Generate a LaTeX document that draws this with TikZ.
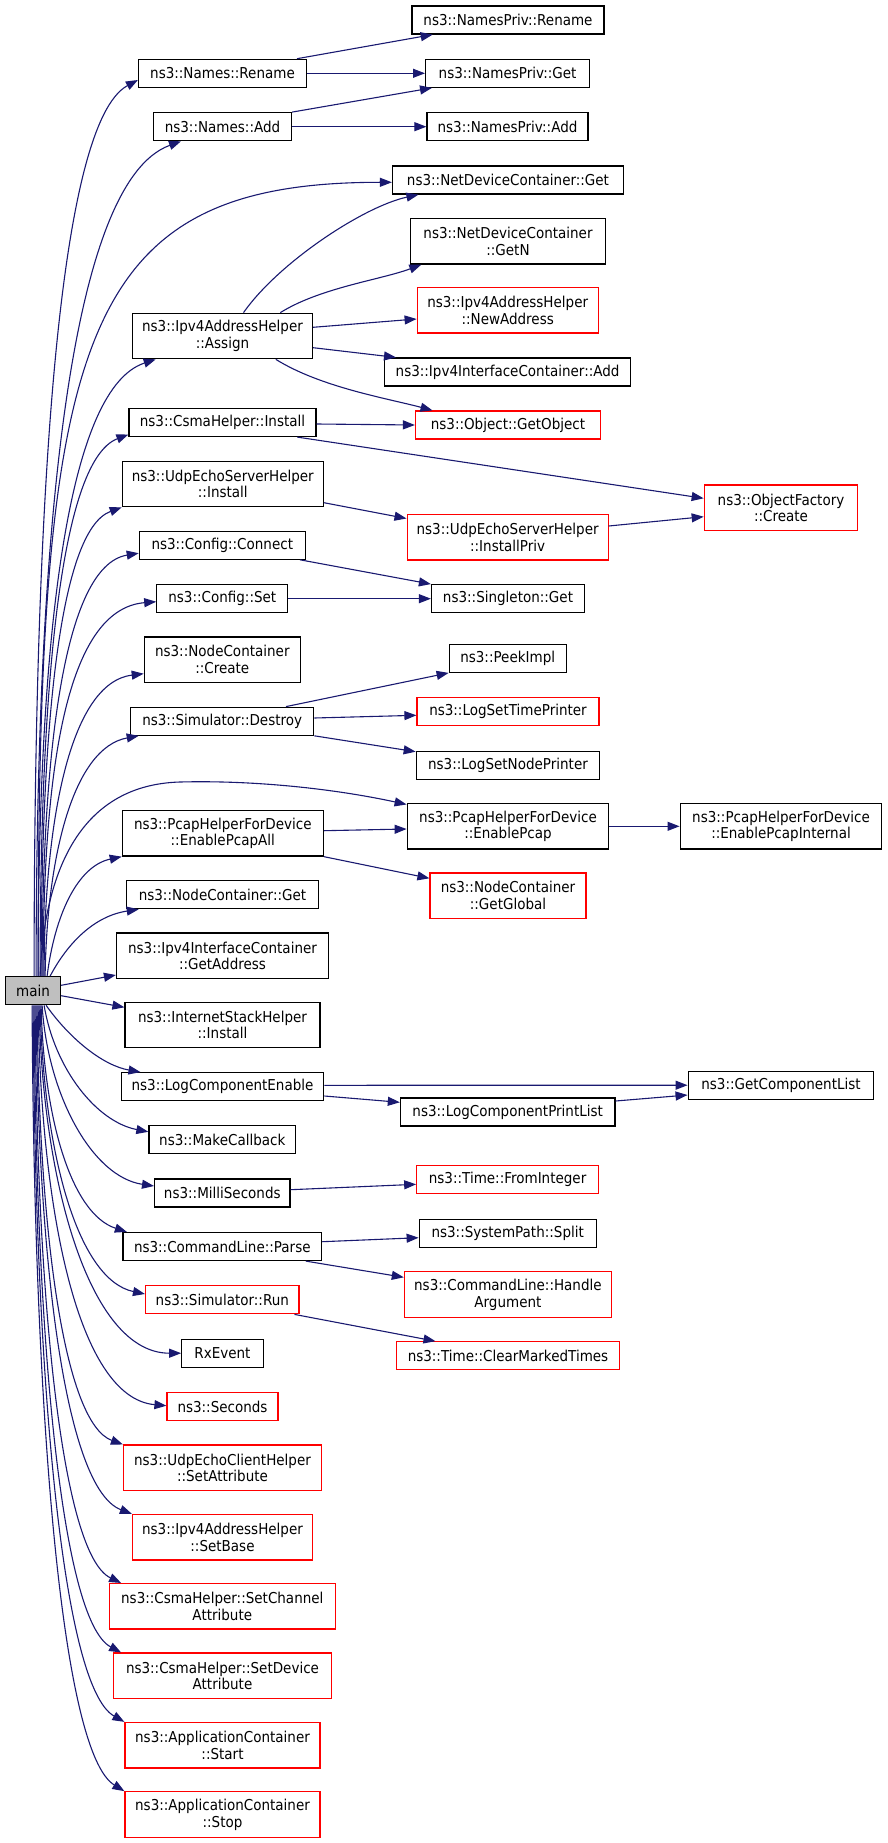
\documentclass[tikz,border=0pt]{standalone}
\usepackage{fontspec}
\setmainfont{DejaVu Sans}[FakeStretch=0.9]
\usetikzlibrary{arrows.meta,calc}
\definecolor{edgeblue}{HTML}{191970}
\definecolor{maingray}{HTML}{BFBFBF}
\tikzset{
  box/.style={draw=black, fill=white, line width=1.2pt, inner sep=0pt, align=center, minimum height=28pt},
  tall/.style={minimum height=45.5pt},
  redbox/.style={box, draw=red},
  conn/.style={draw=edgeblue, line width=1.1pt, -{Triangle[length=12pt,width=9pt]}},
}
\newcommand\cedge[6]{%
  \draw[conn] let \p1=(#1), \p2=(#2) in (\p1) .. controls ({\x1+#3*(\x2-\x1)},{\y1+#4*(\y2-\y1)}) and ({\x1+#5*(\x2-\x1)},{\y1+#6*(\y2-\y1)}) .. (\p2);}
\begin{document}
\begin{tikzpicture}[x=1pt,y=-1pt,font=\fontsize{15}{16.7}\selectfont]
\path[use as bounding box] (0,0) rectangle (888,1843);
% nodes
\node[box, minimum width=192pt] (nprename) at (508,20) {ns3::NamesPriv::Rename};
\node[box, minimum width=168pt] (nrename) at (222.5,73.3) {ns3::Names::Rename};
\node[box, minimum width=164pt] (npget) at (507.6,73.3) {ns3::NamesPriv::Get};
\node[box, minimum width=138pt] (nadd) at (222.5,126.7) {ns3::Names::Add};
\node[box, minimum width=161pt] (npadd) at (507.5,126.7) {ns3::NamesPriv::Add};
\node[box, minimum width=231pt] (ndcget) at (508,180) {ns3::NetDeviceContainer::Get};
\node[box, tall, minimum width=195pt] (ndcgetn) at (508,241.3) {ns3::NetDeviceContainer\\::GetN};
\node[redbox, tall, minimum width=181pt] (newaddr) at (507.7,310.2) {ns3::Ipv4AddressHelper\\::NewAddress};
\node[box, tall, minimum width=180pt] (assign) at (222.5,336) {ns3::Ipv4AddressHelper\\::Assign};
\node[box, minimum width=246pt] (icadd) at (507.6,372) {ns3::Ipv4InterfaceContainer::Add};
\node[redbox, minimum width=185pt] (getobj) at (508,425) {ns3::Object::GetObject};
\node[box, minimum width=187pt] (csmainst) at (222.5,422.5) {ns3::CsmaHelper::Install};
\node[box, tall, minimum width=201pt] (uesinst) at (222.8,484) {ns3::UdpEchoServerHelper\\::Install};
\node[redbox, tall, minimum width=153.5pt] (ofcreate) at (781,507.8) {ns3::ObjectFactory\\::Create};
\node[redbox, tall, minimum width=201pt] (uesinstpriv) at (507.6,537.3) {ns3::UdpEchoServerHelper\\::InstallPriv};
\node[box, minimum width=166pt] (cfgconn) at (222.3,545.2) {ns3::Config::Connect};
\node[box, minimum width=131pt] (cfgset) at (222.3,598.7) {ns3::Config::Set};
\node[box, minimum width=153pt] (sget) at (508,598.7) {ns3::Singleton::Get};
\node[box, tall, minimum width=156pt] (nccreate) at (222.3,659.7) {ns3::NodeContainer\\::Create};
\node[box, minimum width=117pt] (peek) at (507.7,658.3) {ns3::PeekImpl};
\node[redbox, minimum width=182pt] (lstp) at (508,711.8) {ns3::LogSetTimePrinter};
\node[box, minimum width=183pt] (destroy) at (222.2,721.2) {ns3::Simulator::Destroy};
\node[box, minimum width=183.5pt] (lsnp) at (508,765.2) {ns3::LogSetNodePrinter};
\node[box, tall, minimum width=201.6pt] (epcap) at (508,826.3) {ns3::PcapHelperForDevice\\::EnablePcap};
\node[box, tall, minimum width=201.7pt] (epcapint) at (781,826.3) {ns3::PcapHelperForDevice\\::EnablePcapInternal};
\node[box, tall, minimum width=201pt] (epcapall) at (222.8,833.3) {ns3::PcapHelperForDevice\\::EnablePcapAll};
\node[redbox, tall, minimum width=156pt] (ncglobal) at (508,895.7) {ns3::NodeContainer\\::GetGlobal};
\node[box, minimum width=192.5pt] (ncget) at (222.5,894.7) {ns3::NodeContainer::Get};
\node[box, tall, minimum width=212pt] (getaddr) at (222.5,955.8) {ns3::Ipv4InterfaceContainer\\::GetAddress};
\node[box, fill=maingray, minimum width=55pt] (main) at (33.1,990.7) {main};
\node[box, tall, minimum width=195pt] (isinst) at (222.5,1025) {ns3::InternetStackHelper\\::Install};
\node[box, minimum width=202.7pt] (lce) at (222.5,1086.7) {ns3::LogComponentEnable};
\node[box, minimum width=185.7pt] (gcl) at (781,1085.2) {ns3::GetComponentList};
\node[box, minimum width=214.6pt] (lcpl) at (507.7,1112) {ns3::LogComponentPrintList};
\node[box, minimum width=146.7pt] (mkcb) at (222.3,1139.8) {ns3::MakeCallback};
\node[redbox, minimum width=181.7pt] (fromint) at (507.6,1179.8) {ns3::Time::FromInteger};
\node[box, minimum width=135.4pt] (milli) at (222.3,1193) {ns3::MilliSeconds};
\node[box, minimum width=177pt] (split) at (507.7,1233.2) {ns3::SystemPath::Split};
\node[box, minimum width=198.7pt] (parse) at (222.3,1246.5) {ns3::CommandLine::Parse};
\node[redbox, tall, minimum width=207pt] (handlearg) at (507.9,1294.5) {ns3::CommandLine::Handle\\Argument};
\node[redbox, minimum width=153.5pt] (simrun) at (222.3,1299.8) {ns3::Simulator::Run};
\node[box, minimum width=81.5pt] (rxevent) at (222.5,1353.2) {RxEvent};
\node[redbox, minimum width=223pt] (cmt) at (508,1355.8) {ns3::Time::ClearMarkedTimes};
\node[redbox, minimum width=111pt] (seconds) at (222.5,1406.7) {ns3::Seconds};
\node[redbox, tall, minimum width=198pt] (ucsetattr) at (222.5,1467.8) {ns3::UdpEchoClientHelper\\::SetAttribute};
\node[redbox, tall, minimum width=180pt] (setbase) at (222.5,1537.2) {ns3::Ipv4AddressHelper\\::SetBase};
\node[redbox, tall, minimum width=226pt] (setchan) at (222.3,1606.3) {ns3::CsmaHelper::SetChannel\\Attribute};
\node[redbox, tall, minimum width=218.6pt] (setdev) at (222.5,1675.8) {ns3::CsmaHelper::SetDevice\\Attribute};
\node[redbox, tall, minimum width=195pt] (appstart) at (222.5,1745.2) {ns3::ApplicationContainer\\::Start};
\node[redbox, tall, minimum width=195pt] (appstop) at (222.5,1814.5) {ns3::ApplicationContainer\\::Stop};
% second level connectors
\draw[conn] ([xshift=74.5pt]nrename.north) -- ([xshift=21.3pt]nprename.south west);
\draw[conn] (nrename.east) -- (npget.west);
\draw[conn] (nadd.north east) -- ([xshift=7pt]npget.south west);
\draw[conn] (nadd.east) -- (npadd.west);
\draw[conn] ([xshift=21pt]assign.north) .. controls +(35,-50) and +(-55,12) .. ([xshift=26.5pt]ndcget.south west);
\draw[conn] ([xshift=57.8pt]assign.north) .. controls +(40,-25) and +(-40,15) .. ([xshift=11.4pt]ndcgetn.south west);
\draw[conn] ([yshift=8.7pt]assign.east) -- ([yshift=-8.8pt]newaddr.west);
\draw[conn] ([yshift=-11.7pt]assign.east) -- ([xshift=12pt]icadd.north west);
\draw[conn] ([xshift=53.3pt]assign.south) .. controls +(45,28) and +(-45,-12) .. ([xshift=17.6pt]getobj.north west);
\draw[conn] ([yshift=-1.5pt]csmainst.east) -- (getobj.west);
\draw[conn] ([xshift=74.8pt]csmainst.south) -- ([yshift=9.5pt]ofcreate.west);
\draw[conn] ([yshift=-18.7pt]uesinst.east) -- ([yshift=18.8pt]uesinstpriv.west);
\draw[conn] ([yshift=11.3pt]uesinstpriv.east) -- ([yshift=-8.9pt]ofcreate.west);
\draw[conn] ([xshift=77.7pt]cfgconn.south) -- (sget.north west);
\draw[conn] (cfgset.east) -- (sget.west);
\draw[conn] ([xshift=63.8pt]destroy.north) -- (peek.south west);
\draw[conn] ([yshift=3.2pt]destroy.east) -- ([yshift=-3.5pt]lstp.west);
\draw[conn] (destroy.south east) -- ([yshift=13.5pt]lsnp.west);
\draw[conn] ([yshift=2.6pt]epcapall.east) -- ([yshift=-2.7pt]epcap.west);
\draw[conn] (epcapall.south east) -- ([yshift=17.4pt]ncglobal.west);
\draw[conn] (epcap.east) -- (epcapint.west);
\draw[conn] ([yshift=1.4pt]lce.east) -- (gcl.west);
\draw[conn] ([yshift=-9.3pt]lce.east) -- ([yshift=9.7pt]lcpl.west);
\draw[conn] ([yshift=11pt]lcpl.east) -- ([yshift=-9.8pt]gcl.west);
\draw[conn] ([yshift=3.3pt]milli.east) -- ([yshift=-4.5pt]fromint.west);
\draw[conn] ([yshift=4.8pt]parse.east) -- ([yshift=-4.5pt]split.west);
\draw[conn] ([xshift=83.5pt]parse.south) -- ([yshift=17.2pt]handlearg.west);
\draw[conn] ([xshift=72.2pt]simrun.south) -- ([xshift=39.6pt]cmt.north west);
% main connectors (upwards)
\cedge{[xshift=1pt]main.north}{[yshift=-6.7pt]nrename.west}{0}{0.5}{0.2}{0.95}
\cedge{[xshift=3pt]main.north}{[xshift=-41.5pt]nadd.south}{0}{0.5}{0.2}{0.95}
\cedge{[xshift=5pt]main.north}{[yshift=-2.3pt]ndcget.west}{0}{0.8}{0.1}{1.0}
\cedge{[xshift=5pt]main.north}{[xshift=-66.8pt]assign.south}{0}{0.5}{0.2}{0.95}
\cedge{[xshift=7pt]main.north}{[yshift=-12pt]csmainst.west}{0}{0.5}{0.2}{0.95}
\cedge{[xshift=8pt]main.north}{uesinst.south west}{0}{0.5}{0.2}{0.95}
\cedge{[xshift=9pt]main.north}{[yshift=-8pt]cfgconn.west}{0}{0.5}{0.2}{0.97}
\cedge{[xshift=10pt]main.north}{[yshift=-3pt]cfgset.west}{0}{0.55}{0.2}{0.98}
\cedge{[xshift=11pt]main.north}{[yshift=-14pt]nccreate.west}{0}{0.5}{0.25}{0.97}
\cedge{[xshift=12pt]main.north}{[xshift=-83.5pt]destroy.south}{0.02}{0.5}{0.3}{0.95}
\draw[conn] ([xshift=7pt]main.north) .. controls (44,880) and (75,785) .. (180,782) .. controls (260,780) and (340,790) .. ([yshift=-1.5pt]epcap.north west);
\cedge{[xshift=14pt]main.north}{epcapall.south west}{0.1}{0.5}{0.4}{0.92}
\cedge{[xshift=17pt]main.north}{[xshift=-83.8pt]ncget.south}{0.2}{0.5}{0.5}{0.9}
\draw[conn] ([yshift=5.4pt]main.east) -- ([yshift=-19.2pt]getaddr.west);
\draw[conn] ([yshift=-5pt]main.east) -- ([yshift=17.7pt]isinst.west);
% main connectors (downwards)
\cedge{[xshift=13pt]main.south}{[xshift=-82pt]lce.north}{0.25}{0.5}{0.6}{0.9}
\cedge{[xshift=11pt]main.south}{[yshift=8pt]mkcb.west}{0.1}{0.5}{0.5}{0.92}
\cedge{[xshift=9pt]main.south}{[yshift=7pt]milli.west}{0.05}{0.5}{0.45}{0.95}
\cedge{[xshift=8pt]main.south}{[xshift=4.5pt]parse.north west}{0.03}{0.5}{0.35}{0.92}
\cedge{[xshift=7pt]main.south}{[yshift=5.8pt]simrun.west}{0.03}{0.5}{0.35}{0.95}
\cedge{[xshift=6pt]main.south}{rxevent.west}{0.02}{0.5}{0.35}{1.0}
\cedge{[xshift=5pt]main.south}{[yshift=1pt]seconds.west}{0.02}{0.5}{0.3}{0.98}
\cedge{[xshift=4pt]main.south}{ucsetattr.north west}{0.02}{0.5}{0.3}{0.95}
\cedge{[xshift=3pt]main.south}{setbase.north west}{0.02}{0.5}{0.3}{0.95}
\cedge{[xshift=2pt]main.south}{[xshift=12.4pt]setchan.north west}{0.02}{0.5}{0.3}{0.95}
\cedge{[xshift=1pt]main.south}{[xshift=8.5pt]setdev.north west}{0.02}{0.5}{0.3}{0.95}
\cedge{main.south}{appstart.north west}{0.02}{0.5}{0.3}{0.95}
\cedge{[xshift=-1pt]main.south}{appstop.north west}{0.02}{0.5}{0.3}{0.95}
\end{tikzpicture}
\end{document}
